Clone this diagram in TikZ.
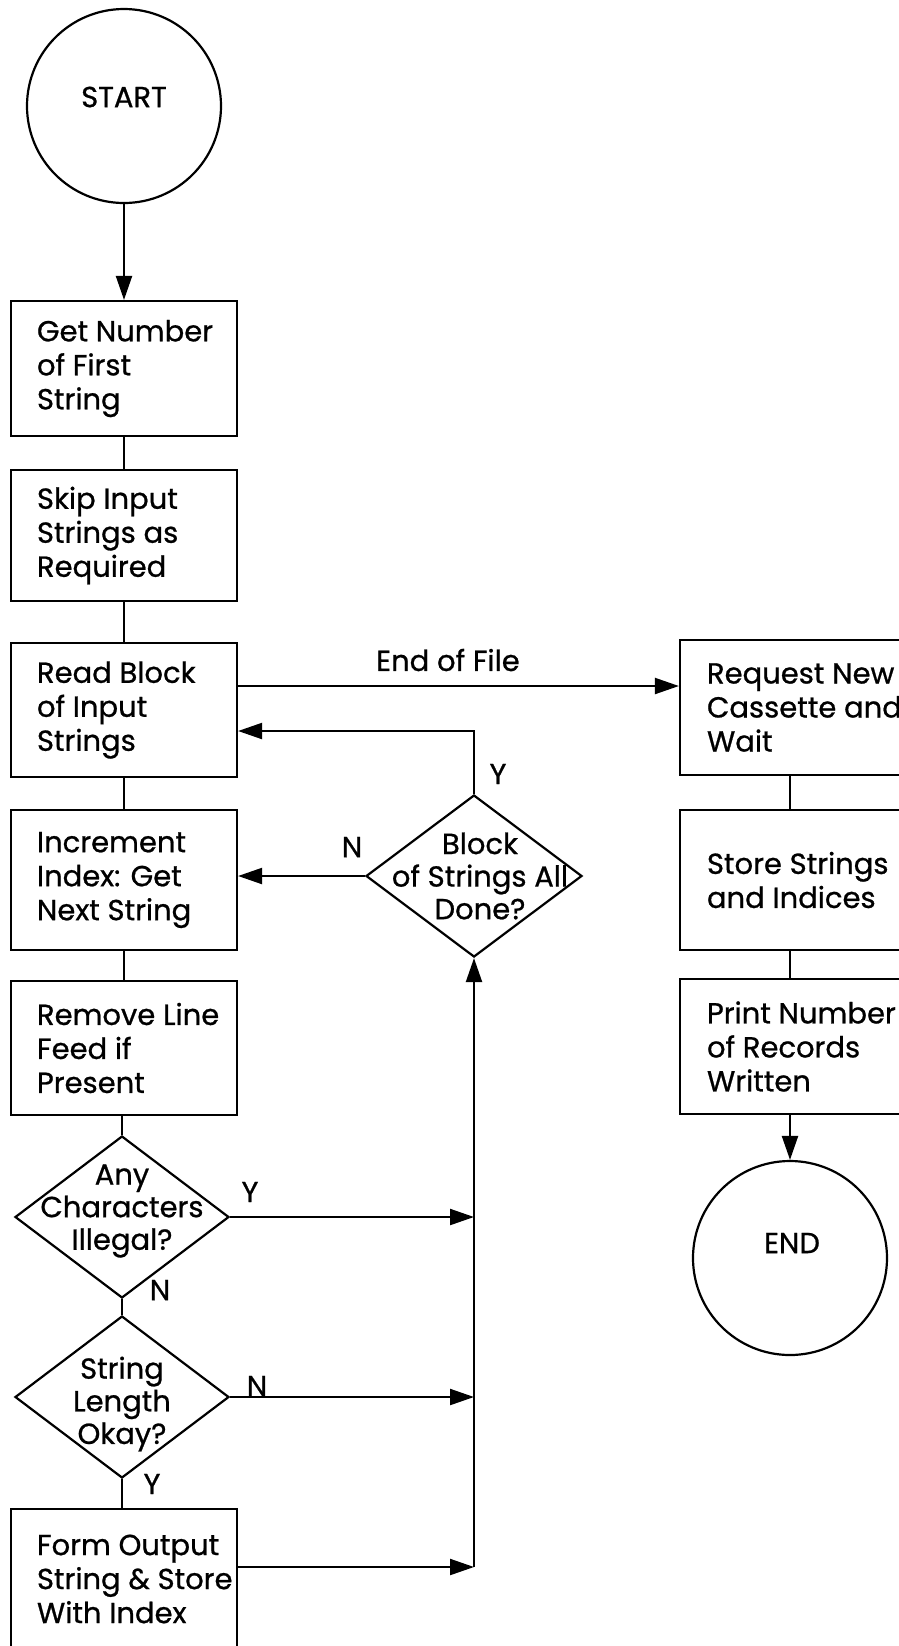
\documentclass[tikz,border=0pt]{standalone}
\usepackage{fontspec}
\setmainfont{Poppins}[FakeBold=0.8]
\usetikzlibrary{arrows.meta,shapes.geometric}
\begin{document}
\begin{tikzpicture}[x=0.5pt,y=-0.5pt,
  line width=1.1pt,
  txt/.style={font=\fontsize{14.5}{17}\selectfont, inner sep=0pt, align=left, anchor=west},
  ctxt/.style={font=\fontsize{14.5}{16.3}\selectfont, inner sep=0pt, align=center},
  lbl/.style={font=\fontsize{14.5}{17}\selectfont, inner sep=0pt},
  box/.style={draw, inner sep=0pt, minimum width=113pt},
  rbox/.style={draw, inner sep=0pt, minimum width=120pt},
  dia/.style={draw, diamond, inner sep=0pt, minimum width=107pt, minimum height=81pt},
  term/.style={draw, circle, inner sep=0pt, minimum size=97pt},
  arr/.style={-{Triangle[length=12pt,width=8pt]}}
]
\fill[white] (0,0) rectangle (899,1646);
\useasboundingbox (0,0) rectangle (899,1646);

% left column
\node[term] (start) at (124,106) {};
\node[lbl] (tstart) at (124,97) {START};

\node[box, minimum height=67.5pt] (b1) at (124,368.5) {};
\node[txt] (t1) at ([xshift=13pt]b1.west) {Get Number\\of First\\String};

\node[box, minimum height=65.5pt] (b2) at (124,535.5) {};
\node[txt] (t2) at ([xshift=13pt]b2.west) {Skip Input\\Strings as\\Required};

\node[box, minimum height=67pt] (b3) at (124,710) {};
\node[txt] (t3) at ([xshift=13pt]b3.west) {Read Block\\of Input\\Strings};

\node[box, minimum height=70pt] (b4) at (124,880) {};
\node[txt] (t4) at ([xshift=13pt]b4.west) {Increment\\Index: Get\\Next String};

\node[box, minimum height=67pt] (b5) at (124,1048) {};
\node[txt] (t5) at ([xshift=13pt]b5.west) {Remove Line\\Feed if\\Present};

\node[dia] (dany) at (122,1217) {};
\node[ctxt] (tany) at (122,1211) {Any\\Characters\\Illegal?};

\node[dia] (dstr) at (122,1397) {};
\node[ctxt] (tstr) at (122,1404) {String\\Length\\Okay?};

\node[box, minimum height=70pt] (b6) at (124,1579) {};
\node[txt] (t6) at ([xshift=13pt]b6.west) {Form Output\\String \& Store\\With Index};

% middle decision
\node[dia, minimum width=108pt] (dblock) at (474,876) {};
\node[ctxt] (tblock) at (480,876) {Block\\of Strings All\\Done?};

% right column
\node[rbox, minimum height=67.5pt] (r1) at (800,707.5) {};
\node[txt] (tr1) at ([xshift=13.5pt]r1.west) {Request New\\Cassette and\\Wait};

\node[rbox, minimum height=70pt] (r2) at (800,880) {};
\node[txt] (tr2) at ([xshift=13.5pt]r2.west) {Store Strings\\and Indices};

\node[rbox, minimum height=67.5pt] (r3) at (800,1046.5) {};
\node[txt] (tr3) at ([xshift=13.5pt]r3.west) {Print Number\\of Records\\Written};

\node[term] (endc) at (790,1258) {};
\node[lbl] (tend) at (792,1243) {END};

% helper coordinates
\coordinate (eof) at (0,686);
\coordinate (ya) at (474,731);
\coordinate (vb) at (474,1567);

% connectors left column
\draw[arr] (start) -- (b1);
\draw (b1) -- (b2);
\draw (b2) -- (b3);
\draw (b3) -- (b4);
\draw (b4) -- (b5);
\draw (b5.south -| dany) -- (dany);
\draw (dany) -- (dstr);
\draw (dstr) -- (b6.north -| dstr);

% loop
\draw[arr] (b6.east |- vb) -- (vb);
\draw[arr] (dany.east) -- (dany.east -| vb);
\draw[arr] (dstr.east) -- (dstr.east -| vb);
\draw[arr] (vb) -- (dblock.south);
\draw[arr] (dblock.west) -- (dblock.west -| b4.east);
\draw[arr] (dblock.north) -- (ya) -- (b3.east |- ya);

% end of file
\draw[arr] (b3.east |- eof) -- (r1.west |- eof);
\node[lbl] (leof) at (448,660) {End of File};

% right column connectors
\draw (r1.south -| endc) -- (r2.north -| endc);
\draw (r2.south -| endc) -- (r3.north -| endc);
\draw[arr] (r3.south -| endc) -- (endc);

% branch labels
\node[lbl] (ly1) at (498,774) {Y};
\node[lbl] (ln1) at (352,847) {N};
\node[lbl] (ly2) at (250,1192) {Y};
\node[lbl] (ln2) at (160,1290) {N};
\node[lbl] (ln3) at (257,1386) {N};
\node[lbl] (ly3) at (152,1484) {Y};
\end{tikzpicture}
\end{document}
